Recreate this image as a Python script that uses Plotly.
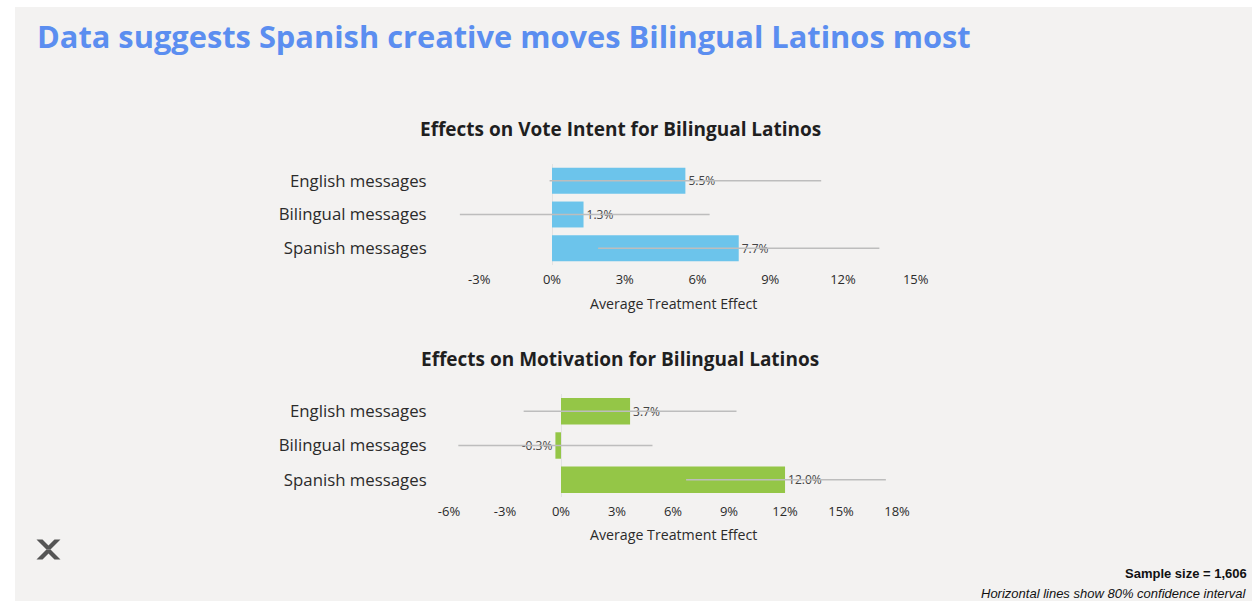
import plotly.graph_objects as go

W, H = 1252, 601

# ---- data ----
categories = ["English messages", "Bilingual messages", "Spanish messages"]

vote_effect = [5.5, 1.3, 7.7]
vote_ci_low = [-0.1, -3.8, 1.9]
vote_ci_high = [11.1, 6.5, 13.5]
vote_ticks = [-3, 0, 3, 6, 9, 12, 15]
vote_tick_labels = ["-3%", "0%", "3%", "6%", "9%", "12%", "15%"]

motiv_effect = [3.7, -0.3, 12.0]
motiv_ci_low = [-2.0, -5.5, 6.7]
motiv_ci_high = [9.4, 4.9, 17.4]
motiv_ticks = [-6, -3, 0, 3, 6, 9, 12, 15, 18]
motiv_tick_labels = ["-6%", "-3%", "0%", "3%", "6%", "9%", "12%", "15%", "18%"]

title_text = "Data suggests Spanish creative moves Bilingual Latinos most"
vote_title = "Effects on Vote Intent for Bilingual Latinos"
motiv_title = "Effects on Motivation for Bilingual Latinos"
axis_title = "Average Treatment Effect"
sample_note = "Sample size = 1,606"
ci_note = "Horizontal lines show 80% confidence interval"

# ---- style ----
FONT = "'Open Sans', Lato, sans-serif"
NOTE_FONT = "'Liberation Sans', Arial, sans-serif"
PANEL = "#f3f2f1"
BLUE_BAR = "#6cc4eb"
GREEN_BAR = "#94c647"
CI_GRAY = "#bdbdbd"
TEXT = "#2b2b2b"


def fx(px):
    return px / W


def fy(py):
    return 1 - py / H


def bar_trace(values, lo, hi, color, xa, ya):
    return go.Bar(
        y=categories,
        x=values,
        orientation="h",
        marker=dict(color=color, line=dict(width=0)),
        text=[f"{v:.1f}%" for v in values],
        textposition="outside",
        textfont=dict(family=FONT, size=12, color="#444444"),
        cliponaxis=False,
        error_x=dict(
            type="data",
            symmetric=False,
            array=[h - v for v, h in zip(values, hi)],
            arrayminus=[v - l for v, l in zip(values, lo)],
            color=CI_GRAY,
            thickness=1.5,
            width=0,
        ),
        xaxis=xa,
        yaxis=ya,
        hoverinfo="skip",
        showlegend=False,
    )


fig = go.Figure()
fig.add_trace(bar_trace(vote_effect, vote_ci_low, vote_ci_high, BLUE_BAR, "x", "y"))
fig.add_trace(bar_trace(motiv_effect, motiv_ci_low, motiv_ci_high, GREEN_BAR, "x2", "y2"))

PLOT_LEFT = 437
# top chart: 0% at 552 px, 24.25 px per percentage point
top_scale, top_zero, top_right = 24.25, 552, 920
# bottom chart: 0% at 561 px, 18.67 px per percentage point
bot_scale, bot_zero, bot_right = 18.67, 561, 910

xaxis_common = dict(
    showgrid=False,
    showline=False,
    zeroline=True,
    zerolinecolor="#e2e2e2",
    zerolinewidth=1,
    ticks="outside",
    ticklen=2,
    tickcolor="rgba(0,0,0,0)",
    tickfont=dict(family=FONT, size=13, color=TEXT),
    fixedrange=True,
    automargin=False,
)
yaxis_common = dict(
    showgrid=False,
    showline=False,
    zeroline=False,
    autorange="reversed",
    ticks="outside",
    ticklen=6,
    tickcolor="rgba(0,0,0,0)",
    tickfont=dict(family=FONT, size=16.8, color=TEXT),
    fixedrange=True,
    automargin=False,
)

fig.update_layout(
    width=W,
    height=H,
    autosize=False,
    margin=dict(l=0, r=0, t=0, b=0, pad=0),
    paper_bgcolor=PANEL,
    plot_bgcolor="rgba(0,0,0,0)",
    bargap=0.23,
    xaxis=dict(
        xaxis_common,
        domain=[fx(PLOT_LEFT), fx(top_right)],
        range=[(PLOT_LEFT - top_zero) / top_scale, (top_right - top_zero) / top_scale],
        tickvals=vote_ticks,
        ticktext=vote_tick_labels,
        anchor="y",
    ),
    yaxis=dict(yaxis_common, domain=[fy(265), fy(164)], anchor="x"),
    xaxis2=dict(
        xaxis_common,
        domain=[fx(PLOT_LEFT), fx(bot_right)],
        range=[(PLOT_LEFT - bot_zero) / bot_scale, (bot_right - bot_zero) / bot_scale],
        tickvals=motiv_ticks,
        ticktext=motiv_tick_labels,
        anchor="y2",
    ),
    yaxis2=dict(yaxis_common, domain=[fy(497), fy(394)], anchor="x2"),
)

# white border along the top and left edges of the slide
fig.add_shape(type="rect", xref="paper", yref="paper", x0=0, x1=1, y0=fy(7), y1=1,
              fillcolor="white", line=dict(width=0), layer="below")
fig.add_shape(type="rect", xref="paper", yref="paper", x0=0, x1=fx(15), y0=0, y1=1,
              fillcolor="white", line=dict(width=0), layer="below")

# logo mark: two chevrons forming an X
logo_top = "M 36.5 539.5 L 42.5 539.5 L 48.5 545.5 L 54.5 539.5 L 60.5 539.5 L 50.5 549.5 L 46.5 549.5 Z"
logo_bot = "M 46.5 549.5 L 50.5 549.5 L 60.5 559.5 L 54.5 559.5 L 48.5 553.5 L 42.5 559.5 L 36.5 559.5 Z"


def to_paper_path(path):
    out = []
    toks = path.split()
    i = 0
    while i < len(toks):
        t = toks[i]
        if t in ("M", "L"):
            x, y = float(toks[i + 1]), float(toks[i + 2])
            out.append(f"{t} {fx(x):.5f} {fy(y):.5f}")
            i += 3
        else:
            out.append(t)
            i += 1
    return " ".join(out)


for p in (logo_top, logo_bot):
    fig.add_shape(
        type="path", xref="paper", yref="paper", path=to_paper_path(p),
        fillcolor="#555555", line=dict(width=0),
    )

annotations = [
    dict(text=f"<b>{title_text}</b>", x=fx(35), y=fy(36), xanchor="left", yanchor="middle",
         font=dict(family=FONT, size=30.8, color="#5b8ef0")),
    dict(text=f"<b>{vote_title}</b>", x=fx(620), y=fy(129), xanchor="center", yanchor="middle",
         font=dict(family=FONT, size=19, color="#1f1f1f")),
    dict(text=f"<b>{motiv_title}</b>", x=fx(620), y=fy(359), xanchor="center", yanchor="middle",
         font=dict(family=FONT, size=19, color="#1f1f1f")),
    dict(text=axis_title, x=fx(673), y=fy(303), xanchor="center", yanchor="middle",
         font=dict(family=FONT, size=14.2, color=TEXT)),
    dict(text=axis_title, x=fx(673), y=fy(534), xanchor="center", yanchor="middle",
         font=dict(family=FONT, size=14.2, color=TEXT)),
    dict(text=f"<b>{sample_note}</b>", x=fx(1249), y=fy(573), xanchor="right", yanchor="middle",
         font=dict(family=NOTE_FONT, size=13, color="#111111")),
    dict(text=f"<i>{ci_note}</i>", x=fx(1249), y=fy(593), xanchor="right", yanchor="middle",
         font=dict(family=NOTE_FONT, size=13, color="#111111")),
]
for a in annotations:
    a.update(xref="paper", yref="paper", showarrow=False)
fig.update_layout(annotations=annotations)

fig.write_html(
    "out.html",
    config={"displayModeBar": False},
    post_script=(
        "document.body.style.margin='0';"
        "document.body.style.overflow='hidden';"
        "document.body.style.background='#f3f2f1';"
    ),
)
